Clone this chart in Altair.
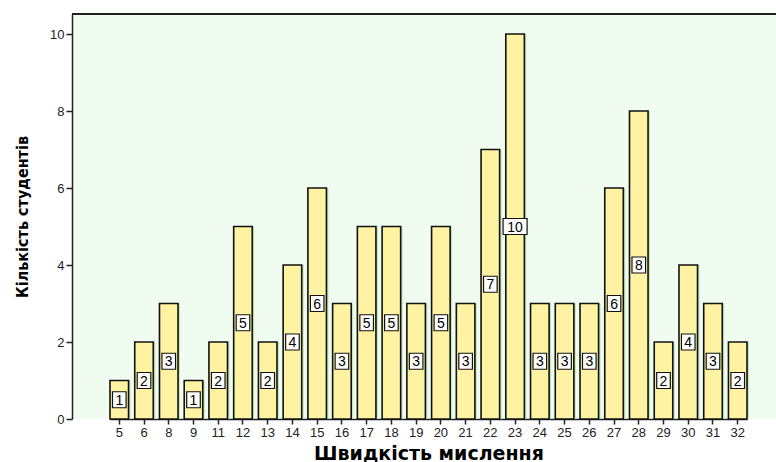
import altair as alt
import pandas as pd

# Thinking speed score and number of students with that score
speed = ["5", "6", "8", "9", "11", "12", "13", "14", "15", "16", "17", "18", "19",
         "20", "21", "22", "23", "24", "25", "26", "27", "28", "29", "30", "31", "32"]
students = [1, 2, 3, 1, 2, 5, 2, 4, 6, 3, 5, 5, 3,
            5, 3, 7, 10, 3, 3, 3, 6, 8, 2, 4, 3, 2]
y_ticks = [0, 2, 4, 6, 8, 10]

df = pd.DataFrame({"speed": speed, "n": students})

W, H = 704, 405
BG = "#f0fcf0"
BAR = "#fff3a3"
LABEL_FONT = "Liberation Sans"
NARROW_FONT = '"DejaVu Sans Condensed", "Liberation Sans Narrow", "Roboto", sans-serif'

# bands occupy the inner part of the plot, leaving empty room at both ends
x_scale = alt.Scale(paddingInner=0.25, paddingOuter=0, range=[38, 675])

x_enc = alt.X(
    "speed:N",
    sort=speed,
    scale=x_scale,
    axis=alt.Axis(
        title="Швидкість мислення",
        titleFont="DejaVu Sans",
        titleFontSize=19,
        titleFontWeight="bold",
        titleColor="#000",
        titleBaseline="alphabetic",
        titleY=40,
        labelAngle=0,
        labelFont=LABEL_FONT,
        labelFontSize=13,
        labelColor="#222",
        labelPadding=2,
        tickSize=5,
        tickColor="#222",
        tickWidth=1.5,
        domainColor="#222",
        domainWidth=1.5,
    ),
)

y_scale = alt.Scale(domain=[0, 10.52], nice=False)
y_axis = alt.Axis(
    title="Кількість студентів",
    titleFont=NARROW_FONT,
    titleFontSize=16,
    titleFontWeight="bold",
    titleColor="#000",
    titleX=-42,
    values=y_ticks,
    grid=False,
    labelFont=LABEL_FONT,
    labelFontSize=13,
    labelColor="#222",
    labelPadding=2,
    tickSize=6,
    tickColor="#222",
    tickWidth=1.5,
    domainColor="#222",
    domainWidth=1.5,
)

base = alt.Chart(df)

# soft green fringe on the right of each bar
shadow = base.mark_bar(color="#c4e6bc", xOffset=2).encode(
    x=x_enc,
    y=alt.Y("n:Q", scale=y_scale, axis=y_axis),
)

bars = base.mark_bar(fill=BAR, stroke="#111", strokeWidth=1.6).encode(
    x=x_enc,
    y=alt.Y("n:Q", scale=y_scale, axis=y_axis),
)

narrow_box = "M-0.85,-1H0.85V1H-0.85Z"
wide_box = "M-1.5,-1H1.5V1H-1.5Z"

boxes = base.transform_calculate(half="datum.n / 2").mark_point(
    filled=True, fill="white", stroke="#111", strokeWidth=1.2, opacity=1, size=256
).encode(
    x=alt.X("speed:N", sort=speed),
    y=alt.Y("half:Q"),
    shape=alt.condition("datum.n >= 10", alt.value(wide_box), alt.value(narrow_box)),
)

labels = base.transform_calculate(half="datum.n / 2").mark_text(
    font=LABEL_FONT, fontSize=14, color="#000", baseline="middle", align="center", dy=1
).encode(
    x=alt.X("speed:N", sort=speed),
    y=alt.Y("half:Q"),
    text=alt.Text("n:Q"),
)

top_line = alt.Chart(df).mark_rule(color="#222", strokeWidth=1.5).encode(
    x=alt.value(0), x2=alt.value(W), y=alt.value(0)
)

chart = (
    alt.layer(shadow, bars, boxes, labels, top_line)
    .properties(
        width=W,
        height=H,
        autosize=alt.AutoSizeParams(type="none"),
        padding={"left": 72, "top": 14, "right": 0, "bottom": 43},
        background="white",
    )
    .configure_view(fill=BG, stroke=None)
)

chart.save("out.html", embed_options={"renderer": "svg", "actions": False})
